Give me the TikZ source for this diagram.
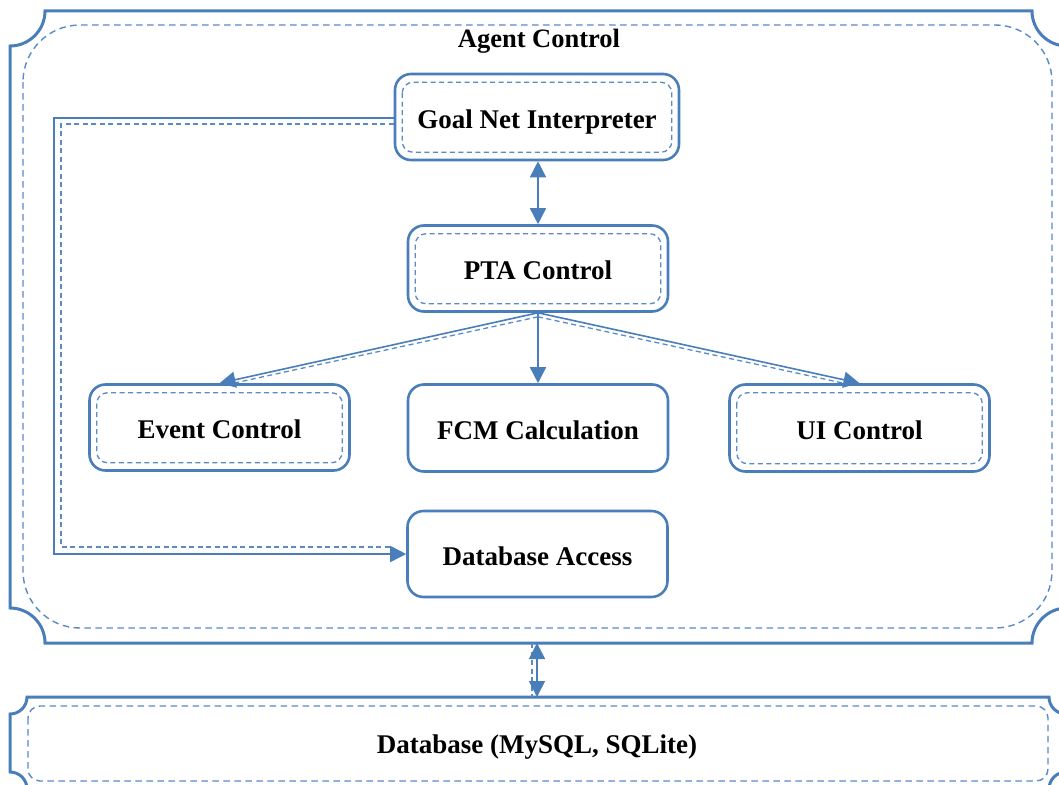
\documentclass[tikz,border=0pt]{standalone}
\usepackage{fontspec}
\setmainfont{Liberation Serif}
\usetikzlibrary{arrows.meta}
\definecolor{lineblue}{HTML}{4A7EBB}
\definecolor{dashblue}{HTML}{5A8AC8}
\tikzset{
  box/.style={draw=lineblue, line width=2.6pt, rounded corners=16pt, fill=white,
    minimum width=260pt, minimum height=86pt, font=\fontsize{27}{32}\selectfont\bfseries,
    inner sep=0pt, text height=22pt, text depth=0pt},
  innerdash/.style={draw=dashblue, line width=1.3pt, dash pattern=on 5pt off 3.5pt, rounded corners=11pt},
  framesolid/.style={draw=lineblue, line width=3pt, line join=miter},
  framedash/.style={draw=dashblue, line width=1.4pt, dash pattern=on 6.5pt off 4.5pt},
  conn/.style={draw=lineblue, line width=1.6pt},
  conndash/.style={draw=dashblue, line width=1.3pt, dash pattern=on 5pt off 3.5pt},
  tip/.style={-{Triangle[length=16pt,width=16pt]}},
  tips/.style={{Triangle[length=16pt,width=16pt]}-{Triangle[length=16pt,width=16pt]}},
  label/.style={font=\fontsize{27}{32}\selectfont\bfseries, inner sep=0pt, anchor=base}
}
\begin{document}
\begin{tikzpicture}[x=1pt,y=-1pt]
\useasboundingbox[fill=white] (0,0) rectangle (1059,784);
\clip (0,0) rectangle (1059,784);

% Agent Control frame
\draw[framesolid] (45,11) -- (1032,11) .. controls (1032,30.3) and (1047.7,46) .. (1067,46)
  -- (1067,608) .. controls (1047.7,608) and (1032,623.7) .. (1032,643)
  -- (45,643) .. controls (45,623.7) and (29.3,608) .. (10,608)
  -- (10,46) .. controls (29.3,46) and (45,30.3) .. (45,11) -- cycle;
\draw[framedash, rounded corners=57pt] (23,25) rectangle (1052,628);
\node[label, font=\fontsize{26.5}{31}\selectfont\bfseries] (agent) at (539,48) {Agent Control};

% Database frame
\draw[framesolid] (27,697) -- (1049,697) .. controls (1049,706.4) and (1056.6,714) .. (1066,714)
  -- (1066,772) .. controls (1056.6,772) and (1049,779.6) .. (1049,789)
  -- (27,789) .. controls (27,779.6) and (19.4,772) .. (10,772)
  -- (10,714) .. controls (19.4,714) and (27,706.4) .. (27,697) -- cycle;
\draw[framedash, rounded corners=12pt] (28,706) rectangle (1048,781);
\node[label] (db) at (537,753) {Database (MySQL, SQLite)};

% nodes
\node[box, minimum width=284pt] (gni) at (537,117) {Goal Net Interpreter};
\node[box] (pta) at (538,268.5) {PTA Control};
\node[box, minimum height=87pt] (fcm) at (538,428) {FCM Calculation};
\node[box] (ev) at (219.5,427.5) {Event Control};
\node[box, minimum height=87pt] (ui) at (859.5,428) {UI Control};
\node[box] (dba) at (537.5,554) {Database Access};

\foreach \n in {gni,pta,ev,ui}{
  \draw[innerdash] ([xshift=8.5pt,yshift=-9.5pt]\n.north west) rectangle ([xshift=-8.5pt,yshift=9pt]\n.south east);
}

% connectors
\coordinate (acbot) at (537,643);
\coordinate (dbtop) at (537,697);
\coordinate (lc) at (54,118);
\coordinate (lcd) at (61,124);

\draw[conn, tips] (gni.south -| pta.north) -- (pta.north);
\draw[conn, tip] (pta.south) -- (fcm.north);
\draw[conndash] ([yshift=-4pt]pta.south) -- ([xshift=14pt]ev.north);
\draw[conn, tip] (pta.south) -- (ev.north);
\draw[conndash] ([yshift=-4pt]pta.south) -- ([xshift=-16pt]ui.north);
\draw[conn, tip] (pta.south) -- (ui.north);

\draw[conndash] ([yshift=-7pt]gni.west) -- (lcd) |- ([yshift=7pt,xshift=-14pt]dba.west);
\draw[conn, tip] (gni.west |- lc) -- (lc) |- (dba.west);

\draw[conndash] ([xshift=-5pt]acbot) -- ([xshift=-5pt]dbtop);
\draw[conn, tips] (acbot) -- (dbtop);
\end{tikzpicture}
\end{document}
